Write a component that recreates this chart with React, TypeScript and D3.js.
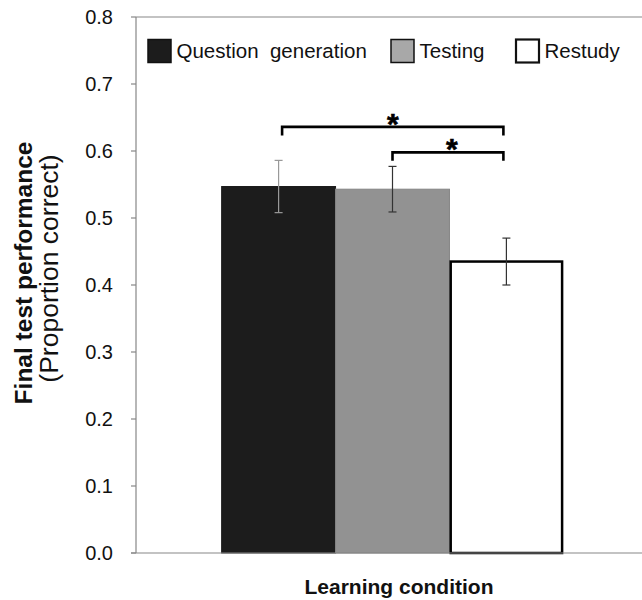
import React from "react";
import * as d3 from "d3";

const conditions = ["Question generation", "Testing", "Restudy"];
const means = [0.547, 0.543, 0.435];
const errors = [0.039, 0.034, 0.035];
const yTicks = [0, 0.1, 0.2, 0.3, 0.4, 0.5, 0.6, 0.7, 0.8];
const legendLabels = ["Question  generation", "Testing", "Restudy"];
// significance comparisons: [from index, to index, bracket level]
const sigFrom = [0, 1];
const sigTo = [2, 2];
const sigLevel = [0.636, 0.598];

const barFills = ["#1c1c1c", "#929292", "#ffffff"];
const barStrokes = ["#1c1c1c", "#858585", "#000000"];
const barStrokeW = [1, 1, 2.5];
const legendFills = ["#1c1c1c", "#a8a8a8", "#ffffff"];
const legendX = [148, 391, 516];

const W = 642;
const H = 600;
const FONT = "'Liberation Sans', Arial, Helvetica, sans-serif";

export default function App() {
  const x0 = 136;
  const yScale = d3.scaleLinear().domain([0, 0.8]).range([553, 17]);
  const xScale = d3
    .scaleBand<string>()
    .domain(conditions)
    .range([x0, 649])
    .paddingInner(0)
    .paddingOuter(0.752);
  const bw = xScale.bandwidth();
  const axisColor = "#878787";

  return (
    <div style={{ position: "fixed", left: 0, top: 0 }}>
      <svg width={W} height={H} style={{ display: "block", background: "#fff" }} fontFamily={FONT}>
        {/* top border */}
        <line x1={x0} x2={W} y1={yScale(0.8)} y2={yScale(0.8)} stroke={axisColor} strokeWidth={1.2} />
        {/* y axis */}
        <line x1={x0} x2={x0} y1={yScale(0.8)} y2={yScale(0)} stroke={axisColor} strokeWidth={1.2} />
        {yTicks.map((t) => (
          <g key={t}>
            <line x1={x0 - 5} x2={x0} y1={yScale(t)} y2={yScale(t)} stroke={axisColor} strokeWidth={1.2} />
            <text x={113} y={yScale(t)} dy="0.36em" textAnchor="end" fontSize={20} fill="#111">
              {t.toFixed(1)}
            </text>
          </g>
        ))}

        {/* bars */}
        {conditions.map((c, i) => {
          const x = xScale(c)!;
          const inset = barStrokeW[i] / 2;
          return (
            <rect
              key={c}
              x={x + (i === 2 ? inset : 0)}
              y={yScale(means[i])}
              width={bw - (i === 2 ? barStrokeW[i] : 0)}
              height={yScale(0) - yScale(means[i])}
              fill={barFills[i]}
              stroke={barStrokes[i]}
              strokeWidth={barStrokeW[i]}
            />
          );
        })}

        {/* x axis */}
        <line x1={x0 - 5} x2={W} y1={yScale(0)} y2={yScale(0)} stroke={axisColor} strokeWidth={1.2} />

        {/* error bars */}
        {conditions.map((c, i) => {
          const cx = xScale(c)! + bw / 2;
          const yt = yScale(means[i] + errors[i]);
          const yb = yScale(means[i] - errors[i]);
          const col = i === 0 ? "#999" : "#333";
          return (
            <g key={c} stroke={col} strokeWidth={1.2}>
              <line x1={cx} x2={cx} y1={yt} y2={yb} />
              <line x1={cx - 4} x2={cx + 4} y1={yt} y2={yt} />
              <line x1={cx - 4} x2={cx + 4} y1={yb} y2={yb} />
            </g>
          );
        })}

        {/* significance brackets */}
        {sigFrom.map((f, k) => {
          const xa = xScale(conditions[f])! + bw / 2 + (f === 0 ? 3.5 : 0);
          const xb = xScale(conditions[sigTo[k]])! + bw / 2 - 3;
          const yl = yScale(sigLevel[k]);
          const yLeg = yl + 8.5;
          const mid = (xa + xb) / 2 + (k === 1 ? 4 : 0);
          return (
            <g key={k}>
              <path
                d={`M${xa},${yLeg}V${yl}H${xb}V${yLeg}`}
                fill="none"
                stroke="#000"
                strokeWidth={2.6}
              />
              <text
                x={mid}
                y={yl + 7}
                textAnchor="middle"
                fontSize={30}
                fontWeight="bold"
                fill="#000"
                stroke="#000"
                strokeWidth={0.6}
              >
                *
              </text>
            </g>
          );
        })}

        {/* legend */}
        {legendLabels.map((l, i) => (
          <g key={l}>
            <rect
              x={legendX[i]}
              y={39.5}
              width={23}
              height={23}
              fill={legendFills[i]}
              stroke="#111"
              strokeWidth={i === 2 ? 2.2 : 1.5}
            />
            <text
              x={legendX[i] + 28.5}
              y={58}
              fontSize={20.5}
              fill="#111"
              style={{ whiteSpace: "pre" }}
            >
              {l}
            </text>
          </g>
        ))}

        {/* axis titles */}
        <text
          x={399}
          y={594}
          textAnchor="middle"
          fontSize={21}
          fontWeight="bold"
          fill="#111"
        >
          Learning condition
        </text>
        <text
          transform={`translate(32,273) rotate(-90)`}
          textAnchor="middle"
          fontSize={24.5}
          fontWeight="bold"
          fill="#111"
        >
          Final test performance
        </text>
        <text
          transform={`translate(58,268.5) rotate(-90)`}
          textAnchor="middle"
          fontSize={26.5}
          fill="#111"
        >
          (Proportion correct)
        </text>
      </svg>
    </div>
  );
}
